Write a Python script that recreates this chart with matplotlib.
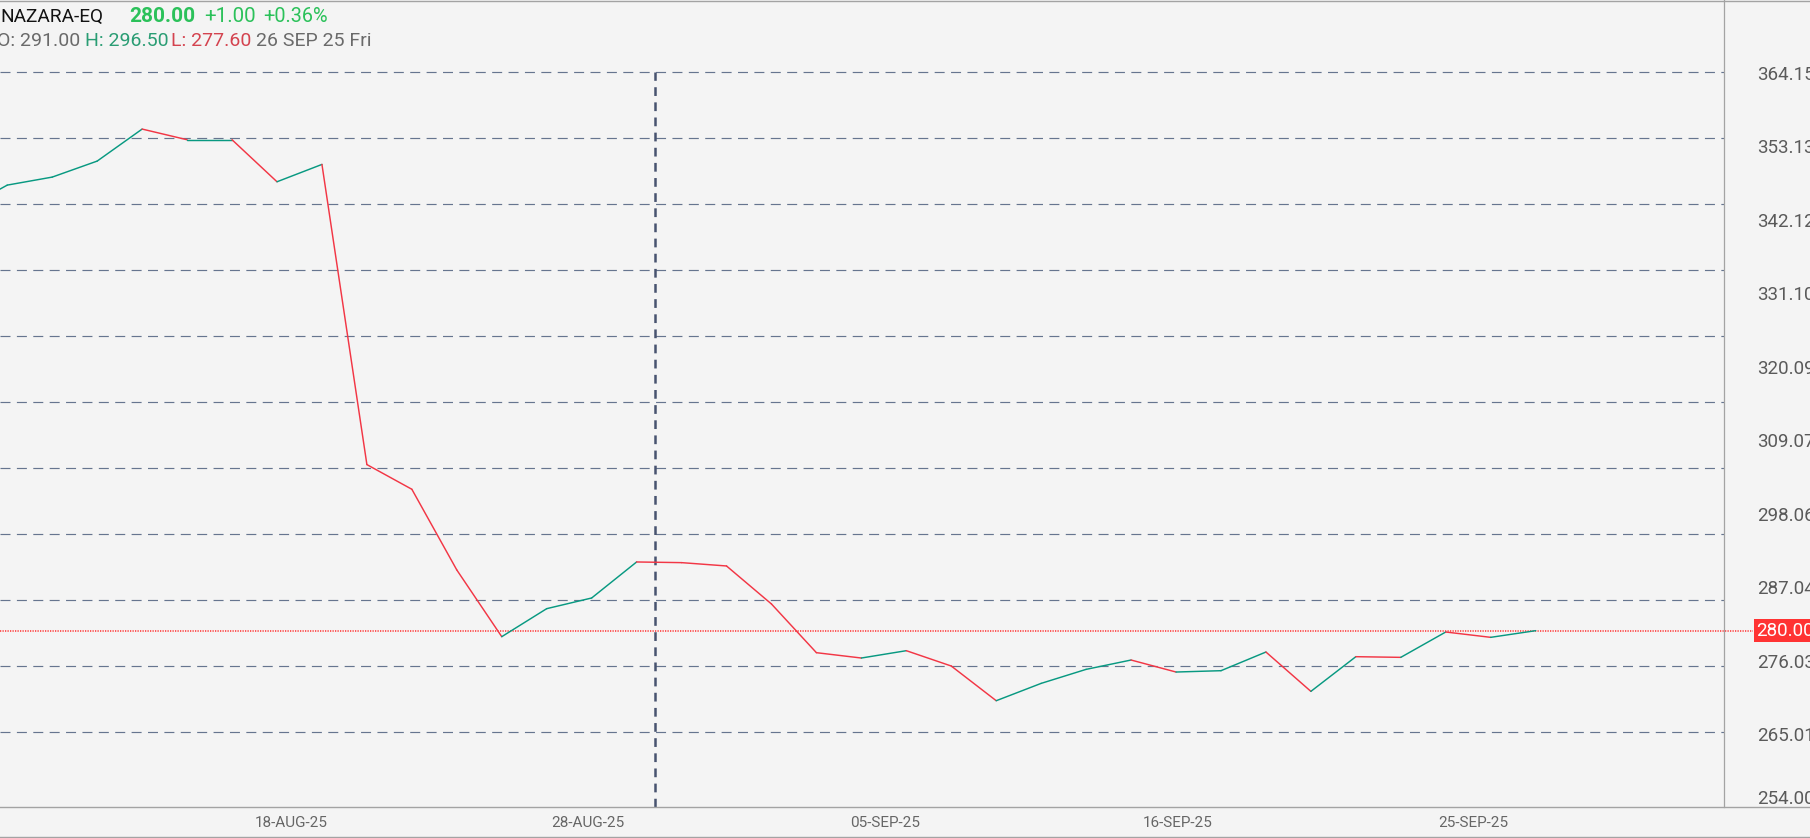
import matplotlib
matplotlib.use('Agg')
import matplotlib.pyplot as plt
import matplotlib.transforms as mtransforms
from matplotlib.lines import Line2D
import numpy as np

plt.rcParams['font.family'] = ['Roboto', 'DejaVu Sans']
plt.rcParams['lines.scale_dashes'] = False

# ---------------- data ----------------
symbol = 'NAZARA-EQ'
last_price = 280.00
change = 1.00
change_pct = 0.36
open_px = 291.00
high_px = 296.50
low_px = 277.60
bar_label = '26 SEP 25 Fri'

dates = ['06-AUG-25', '07-AUG-25', '08-AUG-25', '11-AUG-25', '12-AUG-25', '13-AUG-25',
         '14-AUG-25', '18-AUG-25', '19-AUG-25', '20-AUG-25', '21-AUG-25', '22-AUG-25',
         '25-AUG-25', '26-AUG-25', '28-AUG-25', '29-AUG-25', '01-SEP-25', '02-SEP-25',
         '03-SEP-25', '04-SEP-25', '05-SEP-25', '08-SEP-25', '09-SEP-25', '10-SEP-25',
         '11-SEP-25', '12-SEP-25', '15-SEP-25', '16-SEP-25', '17-SEP-25', '18-SEP-25',
         '19-SEP-25', '22-SEP-25', '23-SEP-25', '24-SEP-25', '25-SEP-25', '26-SEP-25']
closes = [343.1, 346.8, 348.0, 350.4, 355.2, 353.6, 353.6, 347.3, 349.9, 304.9,
          301.2, 289.1, 279.1, 283.3, 284.9, 290.3, 290.2, 289.7, 284.0, 276.7,
          275.9, 277.0, 274.7, 269.5, 272.1, 274.2, 275.6, 273.8, 274.0, 276.8,
          270.9, 276.1, 276.0, 279.8, 279.0, 280.0]

y_tick_values = [364.15, 353.13, 342.12, 331.10, 320.09, 309.07, 298.06, 287.04,
                 276.03, 265.01, 254.00]
grid_levels = [363.7, 353.8, 343.9, 334.0, 324.2, 314.3, 304.4, 294.5, 284.6, 274.7, 264.8]
x_tick_labels = ['18-AUG-25', '28-AUG-25', '05-SEP-25', '16-SEP-25', '25-SEP-25']

# ---------------- layout ----------------
W, H = 1810, 838
x_tick_pos = [7.31, 13.91, 20.53, 27.03, 33.61]
cursor_pos = 15.42
xlim = (0.838, 39.19)
ylim = (253.61, 374.55)

BG = '#f4f4f4'
UP = '#089981'
DOWN = '#f23645'
GRID = '#66758f'
FRAME = '#a3a3a3'
TXT = '#5a5a5a'

fig = plt.figure(figsize=(W / 100, H / 100), dpi=100, facecolor=BG)
ax = fig.add_axes([0, 31.3 / H, 1724 / W, 806.7 / H], facecolor=BG)
ax.set_xlim(*xlim)
ax.set_ylim(*ylim)

# grid lines
for lv in grid_levels:
    ax.axhline(lv, color=GRID, lw=0.85, dashes=(7.2, 4.6), zorder=1)

# crosshair
ax.plot([cursor_pos, cursor_pos], [ylim[0], grid_levels[0]], color='#48536f',
        lw=1.8, dashes=(6.3, 4.6), zorder=2)

# price line segments coloured by direction
x = np.arange(len(closes))
for i in range(1, len(closes)):
    col = UP if closes[i] >= closes[i - 1] else DOWN
    ax.plot(x[i - 1:i + 1], closes[i - 1:i + 1], color=col, lw=1.05,
            solid_capstyle='round', zorder=3)

# last price dotted line + label
ax.axhline(last_price, xmin=0, xmax=1753 / 1724, color='#ff3030', lw=1.1,
           dashes=(0.9, 0.9), clip_on=False, zorder=2)
trans = mtransforms.blended_transform_factory(ax.transAxes, ax.transData)
ax.text(1756.5 / 1724, last_price, f'{last_price:.2f}', transform=trans,
        ha='left', va='center', color='white', fontsize=13.5,
        bbox=dict(boxstyle='square,pad=0.12', fc='#ff3333', ec='none'),
        clip_on=False, zorder=5)

# axes styling
for s in ['top', 'left', 'bottom']:
    ax.spines[s].set_visible(False)
ax.spines['right'].set_color(FRAME)
ax.spines['right'].set_linewidth(0.9)

ax.yaxis.tick_right()
ax.set_yticks(y_tick_values)
ax.set_yticklabels([f'{v:.2f}' for v in y_tick_values])
ax.tick_params(axis='y', length=0, pad=24.0, labelsize=13.5, labelcolor=TXT)
ax.set_xticks(x_tick_pos)
ax.set_xticklabels(x_tick_labels)
ax.tick_params(axis='x', length=0, pad=6.5, labelsize=11, labelcolor='#666666')

offset = mtransforms.ScaledTranslation(0, -3.5 / 100, fig.dpi_scale_trans)
ticks = ax.yaxis.get_major_ticks()
for t in ticks:
    t.label2.set_transform(t.label2.get_transform() + offset)
ticks[-1].label2.set_va('bottom')

# figure frame lines
for yy in [1 - 0.6 / H, 31.3 / H, 0.7 / H]:
    fig.add_artist(Line2D([0, 1], [yy, yy], transform=fig.transFigure,
                          color=FRAME, lw=1.0))

# header
def px(xp, yp_top):
    return xp / W, 1 - yp_top / H

GREEN = '#2bc15a'
fig.text(*px(0, 21.7), symbol, fontsize=13.7, color='#131313', va='baseline')
fig.text(*px(129, 21.7), f'{last_price:.2f}', fontsize=15, color=GREEN,
         fontweight='bold', va='baseline')
fig.text(*px(204, 21.7), f'+{change:.2f}', fontsize=14.8, color=GREEN, va='baseline')
fig.text(*px(263, 21.7), f'+{change_pct:.2f}%', fontsize=14.3, color=GREEN, va='baseline')
fs2 = 14
fig.text(*px(-3, 45.7), f'O: {open_px:.2f}', fontsize=fs2, color='#6a6a6a', va='baseline')
fig.text(*px(85, 45.7), f'H: {high_px:.2f}', fontsize=fs2, color='#2a9d74', va='baseline')
fig.text(*px(170.7, 45.7), f'L: {low_px:.2f}', fontsize=fs2, color='#d4434f', va='baseline')
fig.text(*px(256, 45.7), bar_label, fontsize=fs2, color='#6a6a6a', va='baseline')

fig.savefig('out.png', dpi=100, facecolor=BG)
